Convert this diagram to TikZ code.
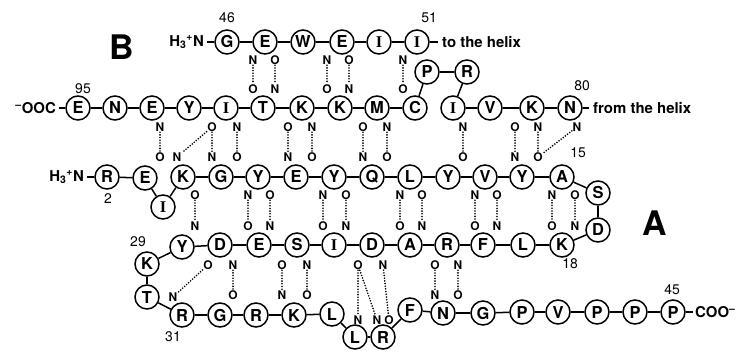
\documentclass[tikz,border=0pt]{standalone}
\usepackage{fontspec}
\setmainfont{TeX Gyre Heros}
\newfontfamily\serifI{Liberation Serif}
\newcommand\Ir{{\serifI\bfseries I}}
\begin{document}
\begin{tikzpicture}[x=1bp,y=-1bp,
  res/.style={circle,draw,line width=1.5bp,minimum size=24bp,inner sep=0pt,font=\fontsize{16.5}{16.5}\selectfont\bfseries},
  lab/.style={inner sep=0.6bp,font=\fontsize{12}{12}\selectfont\bfseries},
  num/.style={inner sep=0pt,font=\fontsize{14}{14}\selectfont},
  txt/.style={inner sep=1.5bp,font=\fontsize{15}{15}\selectfont\bfseries},
  big/.style={inner sep=0pt,font=\fontsize{34}{34}\selectfont\bfseries},
  bond/.style={line width=1.5bp},
  hb/.style={line width=1.8bp,dash pattern=on 0pt off 2.7bp,line cap=round}]
\useasboundingbox (0,0) rectangle (743,351);
% residues
\foreach \n/\l/\x/\y in {
 g46/G/227/42, e47/E/265/42, w48/W/303/42, e49/E/342/42, i50/\Ir/379/42, i51/\Ir/417/42,
 n80/N/570/108, k81/K/532/108, v82/V/490/108, i83/\Ir/453/108, r84/R/467/72, p85/P/427/72,
 c86/C/415/108, m87/M/377/108, k88/K/340/108, k89/K/302/108, t90/T/263/108, i91/\Ir/226/108,
 y92/Y/189/108, e93/E/152/108, n94/N/115/108, e95/E/78/108,
 r2/R/107/177, e3/E/145/178, i4/\Ir/163/207, k5/K/183/177, g6/G/221/177, y7/Y/258/177,
 e8/E/296/177, y9/Y/334/177, q10/Q/372/177, l11/L/410/177, y12/Y/448/177, v13/V/485/177,
 y14/Y/522/177, a15/A/562/177, s16/S/598/193, d17/D/598/230, k18/K/562/245, l19/L/523/245,
 f20/F/483/245, r21/R/447/245, a22/A/410/245, d23/D/372/245, i24/\Ir/334/245, s25/S/297/245,
 e26/E/259/245, d27/D/220/245, y28/Y/182/247, k29/K/147/264, t30/T/147/297, r31/R/182/315,
 g32/G/220/315, r33/R/256/315, k34/K/294/315, l35/L/332/314, l36/L/355/337, r37/R/383/337,
 f38/F/410/310, n39/N/443/313, g40/G/483/313, p41/P/522/312, v42/V/558/312, p43/P/597/312,
 p44/P/635/312, p45/P/673/312}
 \node[res] (\n) at (\x,\y) {\l};
% chain bonds
\foreach \a/\b in {g46/e47, e47/w48, w48/e49, e49/i50, i50/i51,
 n80/k81, k81/v82, v82/i83, i83/r84, r84/p85, p85/c86, c86/m87, m87/k88, k88/k89, k89/t90,
 t90/i91, i91/y92, y92/e93, e93/n94, n94/e95,
 r2/e3, e3/i4, i4/k5, k5/g6, g6/y7, y7/e8, e8/y9, y9/q10, q10/l11, l11/y12, y12/v13, v13/y14,
 y14/a15, a15/s16, s16/d17, d17/k18, k18/l19, l19/f20, f20/r21, r21/a22, a22/d23, d23/i24,
 i24/s25, s25/e26, e26/d27, d27/y28, y28/k29, k29/t30, t30/r31, r31/g32, g32/r33, r33/k34,
 k34/l35, l35/l36, l36/r37, r37/f38, f38/n39, n39/g40, g40/p41, p41/v42, v42/p43, p43/p44, p44/p45}
 \draw[bond] (\a) -- (\b);
% end texts
\node[txt,anchor=east,inner xsep=3bp] (hB) at (207,42) {H\textsubscript{3}\textsuperscript{+}N};
\draw[bond] (hB) -- (g46);
\node[txt,anchor=west,inner xsep=4bp] (toh) at (438,42) {to the helix};
\draw[bond] (i51) -- (toh);
\node[txt,anchor=east,inner xsep=3bp] (cooB) at (59,108) {\textsuperscript{--}OOC};
\draw[bond] (cooB) -- (e95);
\node[txt,anchor=west,inner xsep=4bp] (fromh) at (589,108) {from the helix};
\draw[bond] (n80) -- (fromh);
\node[txt,anchor=east,inner xsep=3bp] (hA) at (87,177) {H\textsubscript{3}\textsuperscript{+}N};
\draw[bond] (hA) -- (r2);
\node[txt,anchor=west,inner xsep=2bp] (cooA) at (693,312) {COO\textsuperscript{--}};
\draw[bond] (p45) -- (cooA);
% numbers
\node[num] (l46) at (227,18) {46};
\node[num] (l51) at (429,18) {51};
\node[num] (l95) at (83,89) {95};
\node[num] (l80) at (582,86) {80};
\node[num] (l15) at (578,153) {15};
\node[num] (l2) at (108,199) {2};
\node[num] (l29) at (138,242) {29};
\node[num] (l31) at (173,337) {31};
\node[num] (l18) at (570,264) {18};
\node[num] (l45) at (672,290) {45};
% big letters
\node[big] (bigB) at (122,47) {B};
\node[big] (bigA) at (655,223) {A};
% H-bonds B1-B2
\foreach \x/\t/\b [count=\i] in {253/N/O, 275/O/N, 327/N/O, 349/O/N, 403/N/O} {
  \node[lab] (ta\i) at (\x,60) {\t};
  \node[lab] (ba\i) at (\x,89) {\b};
  \draw[hb] (ta\i) -- (ba\i);
}
% H-bonds B2-A2
\foreach \x/\t/\b [count=\i] in {160/N/O, 212/O/N, 237/N/O, 288/O/N, 312/N/O, 363/O/N, 387/N/O, 463/N/O, 515/O/N, 538/N/O} {
  \node[lab] (tb\i) at (\x,127) {\t};
  \node[lab] (bb\i) at (\x,157) {\b};
  \draw[hb] (tb\i) -- (bb\i);
}
\node[lab] (bbx) at (177,157) {N};
\draw[hb] (tb2) -- (bbx);
\node[lab] (tbx) at (577,127) {N};
\draw[hb] (tbx) -- (bb10);
% H-bonds A2-A3
\foreach \x/\t/\b [count=\i] in {195/O/N, 248/N/O, 270/O/N, 323/N/O, 346/O/N, 400/N/O, 422/O/N, 475/N/O, 497/O/N, 552/N/O, 575/O/N} {
  \node[lab] (tc\i) at (\x,195) {\t};
  \node[lab] (bc\i) at (\x,226) {\b};
  \draw[hb] (tc\i) -- (bc\i);
}
% H-bonds A3-A4
\foreach \x/\t/\b [count=\i] in {233/N/O, 282/O/N, 307/N/O, 435/O/N, 458/N/O} {
  \node[lab] (td\i) at (\x,265) {\t};
  \node[lab] (bd\i) at (\x,295) {\b};
  \draw[hb] (td\i) -- (bd\i);
}
\node[lab] (tdx) at (208,265) {O};
\node[lab] (bdx) at (173,297) {N};
\draw[hb] (tdx) -- (bdx);
\node[lab] (tdy) at (358,265) {O};
\node[lab] (tdz) at (383,265) {N};
\node[lab] (bdy) at (358,320) {N};
\node[lab] (bdz) at (377,320) {N};
\node[lab] (bdw) at (389,320) {O};
\draw[hb] (tdy) -- (bdy);
\draw[hb] (tdy) -- (bdz);
\draw[hb] (tdz) -- (bdw);
\end{tikzpicture}
\end{document}
